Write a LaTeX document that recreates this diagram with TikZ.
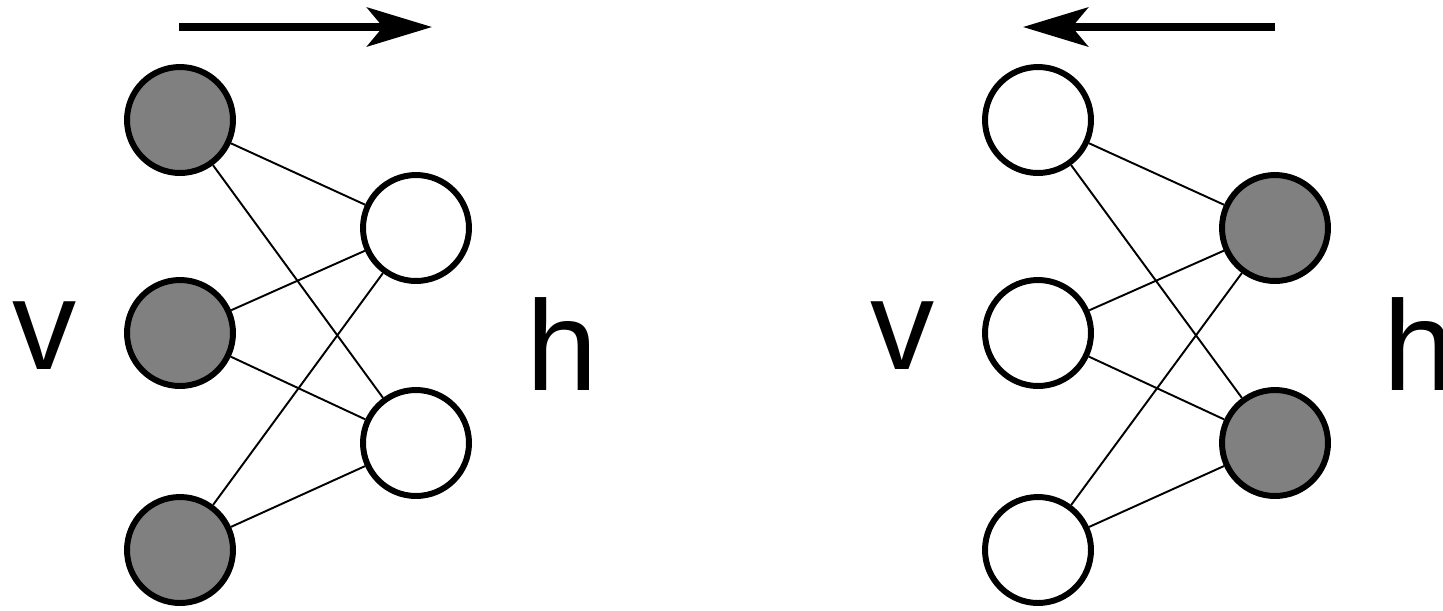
\documentclass[tikz,border=0pt]{standalone}
\usepackage{fontspec}
\setmainfont{Liberation Sans}
\usetikzlibrary{arrows.meta}
\definecolor{unitgray}{HTML}{808080}
\tikzset{
  unit/.style     = {circle, draw=black, line width=3.4pt, minimum size=2.12cm, inner sep=0pt},
  onunit/.style   = {unit, fill=unitgray},
  offunit/.style  = {unit, fill=white},
  wire/.style     = {draw=black, line width=1.1pt},
  passarrow/.style = {-{Stealth[length=1.3cm, width=0.78cm, inset=0.32cm]}, line width=4.4pt},
  layerlab/.style = {font=\fontsize{73}{73}\selectfont, inner sep=0pt},
}

\begin{document}
\begin{tikzpicture}[x=0.02cm, y=-0.02cm]
  \useasboundingbox (0,0) rectangle (1443,610);
  % left: v -> h
  \node[onunit]  (lv1) at (180,120) {};
  \node[onunit]  (lv2) at (180,333) {};
  \node[onunit]  (lv3) at (180,550) {};
  \node[offunit] (lh1) at (416,228) {};
  \node[offunit] (lh2) at (416,443) {};
  \draw[wire] (lv1) -- (lh1);
  \draw[wire] (lv1) -- (lh2);
  \draw[wire] (lv2) -- (lh1);
  \draw[wire] (lv2) -- (lh2);
  \draw[wire] (lv3) -- (lh1);
  \draw[wire] (lv3) -- (lh2);
  \node[layerlab] (lvlab) at (45,336) {v};
  \node[layerlab] (lhlab) at (562,344) {h};
  \coordinate (la) at (179,27);
  \coordinate (lb) at (432,27);
  \draw[passarrow] (la) -- (lb);
  % right: h -> v
  \node[offunit] (rv1) at (1038,120) {};
  \node[offunit] (rv2) at (1038,333) {};
  \node[offunit] (rv3) at (1038,550) {};
  \node[onunit]  (rh1) at (1275,228) {};
  \node[onunit]  (rh2) at (1275,443) {};
  \draw[wire] (rv1) -- (rh1);
  \draw[wire] (rv1) -- (rh2);
  \draw[wire] (rv2) -- (rh1);
  \draw[wire] (rv2) -- (rh2);
  \draw[wire] (rv3) -- (rh1);
  \draw[wire] (rv3) -- (rh2);
  \node[layerlab] (rvlab) at (903,336) {v};
  \node[layerlab] (rhlab) at (1419,344) {h};
  \coordinate (ra) at (1275,27);
  \coordinate (rb) at (1023,27);
  \draw[passarrow] (ra) -- (rb);
\end{tikzpicture}
\end{document}
